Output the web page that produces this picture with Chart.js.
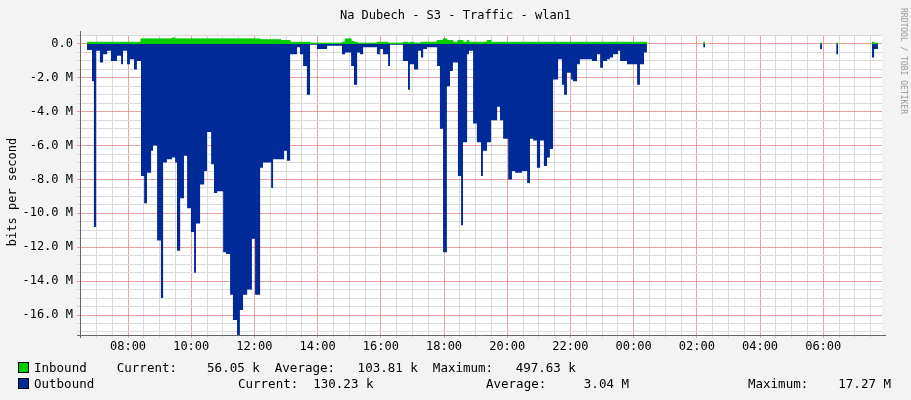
<!DOCTYPE html>
<html><head><meta charset="utf-8">
<script src="https://cdn.jsdelivr.net/npm/chart.js@4"></script>
<style>
html,body{margin:0;padding:0;background:#f3f3f3;}
#wrap{position:relative;width:911px;height:400px;font-family:"DejaVu Sans Mono",monospace;color:#000;}
canvas{position:absolute;left:0;top:0;}
.t{position:absolute;white-space:pre;font-size:12.5px;line-height:14px;}
.sq{position:absolute;width:9px;height:9px;border:1px solid #000;}
</style></head><body>
<div id="wrap">
<canvas id="c" width="911" height="400"></canvas>
<div class="t" style="left:0;width:911px;text-align:center;top:8px;font-size:12px">Na Dubech - S3 - Traffic - wlan1</div>
<div class="t" style="left:4px;top:185px;transform:translate(-50%,0) rotate(-90deg);transform-origin:50% 50%;margin-left:8px;font-size:12px">bits per second</div>
<div class="t" style="left:898px;top:8px;transform:rotate(90deg);transform-origin:0 0;margin-left:12px;font-size:8px;color:#999">RRDTOOL / TOBI OETIKER</div>
<div class="sq" style="left:18px;top:362px;background:#00cc00"></div>
<div class="t" style="left:34px;top:361px">Inbound    Current:    56.05 k  Average:   103.81 k  Maximum:   497.63 k</div>
<div class="sq" style="left:18px;top:378px;background:#002a97"></div>
<div class="t" style="left:34px;top:377px">Outbound</div>
<div class="t" style="left:238px;top:377px">Current:  130.23 k</div>
<div class="t" style="left:486px;top:377px">Average:     3.04 M</div>
<div class="t" style="left:748px;top:377px">Maximum:    17.27 M</div>
</div>
<script>
// time in hours since 00:00 of the first day (start of each interval)
const times = [6.48,6.70,6.86,6.92,6.99,7.11,7.21,7.34,7.46,7.65,7.78,7.84,7.97,8.06,8.19,8.28,8.41,8.51,8.60,8.73,
8.79,8.92,9.04,9.11,9.23,9.39,9.49,9.55,9.65,9.77,9.87,9.99,10.09,10.15,10.28,10.41,10.50,10.63,10.72,10.82,
11.01,11.10,11.23,11.32,11.45,11.54,11.64,11.77,11.92,12.02,12.18,12.27,12.53,12.59,12.84,12.94,13.03,13.13,13.35,13.44,
13.54,13.66,13.76,13.98,14.30,14.77,14.87,15.06,15.15,15.25,15.34,15.44,15.88,15.97,16.07,16.23,16.29,16.70,16.86,16.92,
17.05,17.18,17.27,17.34,17.46,17.78,17.87,17.97,18.09,18.19,18.28,18.44,18.54,18.60,18.73,18.79,18.92,19.04,19.17,19.23,
19.36,19.49,19.58,19.68,19.77,19.87,20.03,20.15,20.25,20.34,20.47,20.63,20.72,20.82,20.94,21.04,21.16,21.26,21.35,21.45,
21.61,21.73,21.80,21.89,22.02,22.08,22.21,22.30,22.68,22.84,22.94,23.03,23.16,23.25,23.35,23.51,23.57,23.79,24.11,24.20,
24.33,24.42,26.20,26.26,29.90,29.96,30.41,30.47,31.54,31.61,31.73,31.86];
// outbound in Mbit/s (drawn negative), value of the interval starting at times[i]; null = no data
const outbound = [null,-0.35,-2.2,-10.8,-0.4,-1.1,-0.6,-0.4,-1.0,-0.7,-1.2,-0.4,-1.2,-0.9,-1.5,-1.0,-7.8,-9.4,-7.6,-6.3,
-6.0,-11.6,-15.0,-7.0,-6.8,-6.7,-7.0,-12.2,-9.1,-6.6,-9.7,-11.1,-13.5,-10.6,-8.3,-7.5,-5.2,-7.1,-8.8,-8.7,
-12.3,-12.4,-14.8,-16.3,-17.2,-15.7,-14.8,-14.5,-11.5,-14.8,-7.3,-7.0,-8.5,-6.8,-6.8,-6.3,-6.9,-0.6,-0.2,-0.6,
-1.3,-3.0,-0.05,-0.3,-0.1,-0.6,-0.5,-1.3,-2.4,-0.5,-0.6,-0.2,-0.6,-0.3,-0.6,-1.3,-0.05,-1.0,-2.7,-1.2,
-1.5,-0.4,-0.8,-0.3,-0.2,-1.3,-5.0,-12.3,-2.5,-1.6,-1.1,-7.8,-10.7,-5.8,-0.6,-0.4,-4.7,-5.8,-7.8,-6.3,
-5.8,-4.5,-4.5,-3.7,-4.5,-5.6,-8.0,-7.5,-7.6,-7.6,-7.5,-8.2,-5.6,-5.7,-7.3,-5.7,-7.2,-6.7,-6.2,-2.1,
-0.9,-2.4,-3.0,-1.7,-2.1,-2.2,-1.2,-0.9,-1.0,-0.6,-1.4,-1.0,-0.9,-0.8,-0.6,-0.4,-1.0,-1.2,-2.4,-1.2,
-0.5,null,-0.2,null,-0.3,null,-0.6,null,-0.8,-0.3,null,null];
// inbound in Mbit/s
const inbound = [null,0.1,0.1,0.1,0.1,0.1,0.1,0.1,0.1,0.1,0.1,0.1,0.1,0.1,0.1,0.1,0.3,0.3,0.3,0.3,
0.3,0.3,0.3,0.3,0.3,0.35,0.3,0.3,0.3,0.3,0.3,0.3,0.3,0.3,0.3,0.3,0.3,0.3,0.3,0.3,
0.3,0.3,0.3,0.3,0.3,0.3,0.3,0.3,0.3,0.3,0.25,0.25,0.25,0.25,0.2,0.2,0.2,0.1,0.1,0.1,
0.1,0.1,0.05,0.05,0.05,0.1,0.3,0.15,0.1,0.05,0.05,0.05,0.1,0.1,0.1,0.05,0.05,0.1,0.05,0.1,
0.05,0.05,0.1,0.1,0.1,0.2,0.2,0.3,0.2,0.2,0.1,0.2,0.2,0.1,0.2,0.1,0.1,0.1,0.1,0.1,
0.2,0.1,0.1,0.1,0.1,0.1,0.1,0.1,0.1,0.1,0.1,0.1,0.1,0.1,0.1,0.1,0.1,0.1,0.1,0.1,
0.1,0.1,0.1,0.1,0.1,0.1,0.1,0.1,0.1,0.1,0.1,0.1,0.1,0.1,0.1,0.1,0.1,0.1,0.1,0.1,
0.1,null,0.1,null,0.05,null,0.05,null,0.1,0.05,null,null];
const xTickLabels = ["08:00","10:00","12:00","14:00","16:00","18:00","20:00","22:00","00:00","02:00","04:00","06:00"];
const yTickLabels = ["0.0","-2.0 M","-4.0 M","-6.0 M","-8.0 M","-10.0 M","-12.0 M","-14.0 M","-16.0 M"];

// each value is held until the next time; a closing point at the next time ends the interval
const pts = a => {const r=[];times.forEach((t,i)=>{const v=a[i];if(v===null){r.push({x:t,y:null});return;}
  r.push({x:t,y:v});if(i+1<times.length&&a[i+1]===null)r.push({x:times[i+1],y:v});});return r;};
const dotted = [1,2];
new Chart(document.getElementById('c'),{
  type:'line',
  data:{datasets:[
    {data:pts(inbound),stepped:'before',fill:'origin',spanGaps:false,backgroundColor:'#00cc00',borderColor:'#00cc00',borderWidth:1,pointRadius:0},
    {data:pts(outbound),stepped:'before',fill:'origin',spanGaps:false,backgroundColor:'#002a97',borderColor:'#002a97',borderWidth:0,pointRadius:0}
  ]},
  plugins:[{id:'bg',beforeDraw(ch){const {ctx,chartArea:a}=ch;ctx.save();ctx.fillStyle='#fff';ctx.fillRect(a.left,a.top,a.right-a.left,a.bottom-a.top);ctx.restore();},
    afterDraw(ch){const {ctx,chartArea:a}=ch;ctx.save();
      ctx.strokeStyle='#666';ctx.lineWidth=1;ctx.beginPath();ctx.moveTo(a.left-3,a.bottom+0.5);ctx.lineTo(a.right+4,a.bottom+0.5);ctx.moveTo(a.left+0.5,a.bottom+3);ctx.lineTo(a.left+0.5,a.top-4);ctx.stroke();ctx.restore();}}],
  options:{
    animation:false,responsive:false,
    layout:{padding:{left:0,right:29,top:35,bottom:0}},
    plugins:{legend:{display:false},tooltip:{enabled:false}},
    scales:{
      x:{type:'linear',min:6.48,max:31.86,
        afterFit(s){s.height=65;},
        afterBuildTicks(s){const t=[];for(let v=6.5;v<=31.8;v+=0.5)t.push({value:v});s.ticks=t;},
        ticks:{autoSkip:false,maxRotation:0,color:'#000',font:{family:'DejaVu Sans Mono',size:12},padding:2,
          callback(v){const h=Math.round(v*2)/2;if(h%2!==0)return '';const i=(h-8)/2;return xTickLabels[i]||'';}},
        grid:{drawTicks:true,tickLength:3,color(c){const v=c.tick&&c.tick.value;return (v%2===0)?'rgba(230,120,120,0.7)':'#dadada';},borderDash:dotted,lineWidth:1},
        border:{display:false}},
      y:{min:-17.18,max:0.53,
        afterFit(s){s.width=80;},
        afterBuildTicks(s){const t=[];for(let v=-17;v<=0.5;v+=0.5)t.push({value:v});s.ticks=t;},
        ticks:{autoSkip:false,color:'#000',font:{family:'DejaVu Sans Mono',size:12},padding:4,
          callback(v){if(Math.abs(v%2)>0.01||v>0)return '';return yTickLabels[-v/2];}},
        grid:{tickLength:3,color(c){const v=c.tick&&c.tick.value;return (Math.abs(v%2)<0.01&&v<=0)?'rgba(230,120,120,0.7)':'#dadada';},borderDash:dotted,lineWidth:1},
        border:{display:false}}
    }
  }
});
</script>
</body></html>
